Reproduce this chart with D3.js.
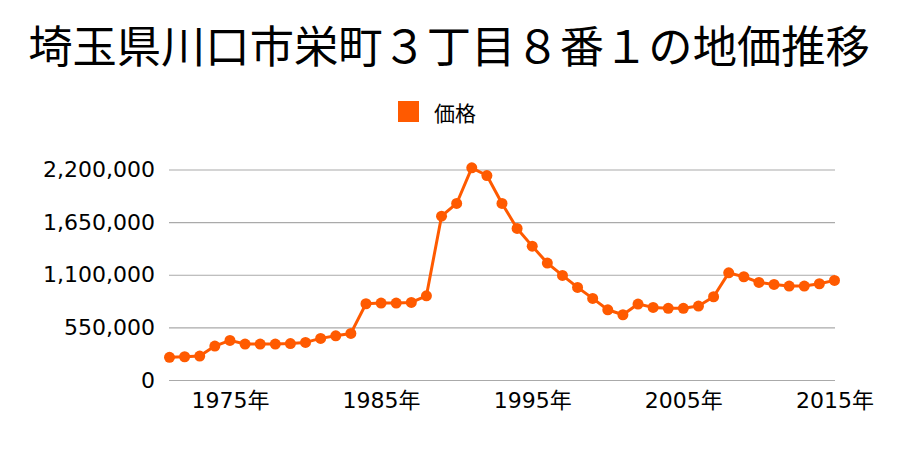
<!DOCTYPE html>
<html><head><meta charset="utf-8">
<script src="https://cdn.jsdelivr.net/npm/d3@7"></script>
<style>body{margin:0;background:#fff}svg{display:block}</style>
</head><body>
<script>
const title = "埼玉県川口市栄町３丁目８番１の地価推移";
const seriesName = "価格";
const years = d3.range(1971, 2016);
const prices = [
  237000, 243000, 250000, 355000, 414000, 376000, 376000, 376000, 381000,
  393000, 435000, 462000, 487000, 797000, 804000, 804000, 811000, 880000,
  1712000, 1845000, 2217000, 2137000, 1845000, 1584000, 1399000, 1222000,
  1093000, 968000, 853000, 734000, 682000, 794000, 759000, 749000, 749000,
  773000, 870000, 1120000, 1079000, 1020000, 999000, 982000, 982000,
  1006000, 1041000
];
const yTicks = [0, 550000, 1100000, 1650000, 2200000];
const xTicks = [1975, 1985, 1995, 2005, 2015];

const W = 900, H = 450;
const color = "#ff5a00";
const font = "'Noto Sans CJK JP', 'Noto Sans', sans-serif";
const numFont = "'DejaVu Sans', 'Noto Sans CJK JP', sans-serif";
const svg = d3.select("body").append("svg").attr("width", W).attr("height", H);

const x = d3.scaleLinear().domain([1971, 2015]).range([169.5, 834.5]);
const y = d3.scaleLinear().domain([0, 2200000]).range([380, 169.5]);

svg.append("text").attr("x", 449).attr("y", 44).attr("text-anchor", "middle")
  .attr("dominant-baseline", "central").attr("font-family", font)
  .attr("font-size", 44.3).attr("fill", "#000").text(title);

// legend
svg.append("rect").attr("x", 398).attr("y", 101).attr("width", 21).attr("height", 21).attr("fill", color);
svg.append("text").attr("x", 434).attr("y", 112).attr("dominant-baseline", "central")
  .attr("font-family", font).attr("font-size", 21).attr("fill", "#000").text(seriesName);

// y grid + labels
const yAxis = svg.append("g").attr("transform", "translate(169,0)")
  .call(d3.axisLeft(y).tickValues(yTicks).tickSize(-666).tickPadding(14)
    .tickFormat(d3.format(",")));
yAxis.select(".domain").remove();
yAxis.selectAll(".tick line").attr("stroke", "#aaaaaa").attr("stroke-width", 1.2);
yAxis.selectAll(".tick text").attr("font-family", numFont).attr("font-size", 22).attr("fill", "#000");

// x labels
const xAxis = svg.append("g").attr("transform", "translate(0,380)")
  .call(d3.axisBottom(x).tickValues(xTicks).tickSize(0).tickPadding(12)
    .tickFormat(d => d + "年"));
xAxis.select(".domain").remove();
xAxis.selectAll(".tick text").attr("font-family", numFont).attr("font-size", 22).attr("fill", "#000");

const data = years.map((yr, i) => ({yr, v: prices[i]}));
svg.append("path").datum(data)
  .attr("fill", "none").attr("stroke", color).attr("stroke-width", 3)
  .attr("stroke-linejoin", "round")
  .attr("d", d3.line().x(d => x(d.yr)).y(d => y(d.v)));
svg.append("g").selectAll("circle").data(data).join("circle")
  .attr("cx", d => x(d.yr)).attr("cy", d => y(d.v)).attr("r", 5.5).attr("fill", color);
</script>
</body></html>
